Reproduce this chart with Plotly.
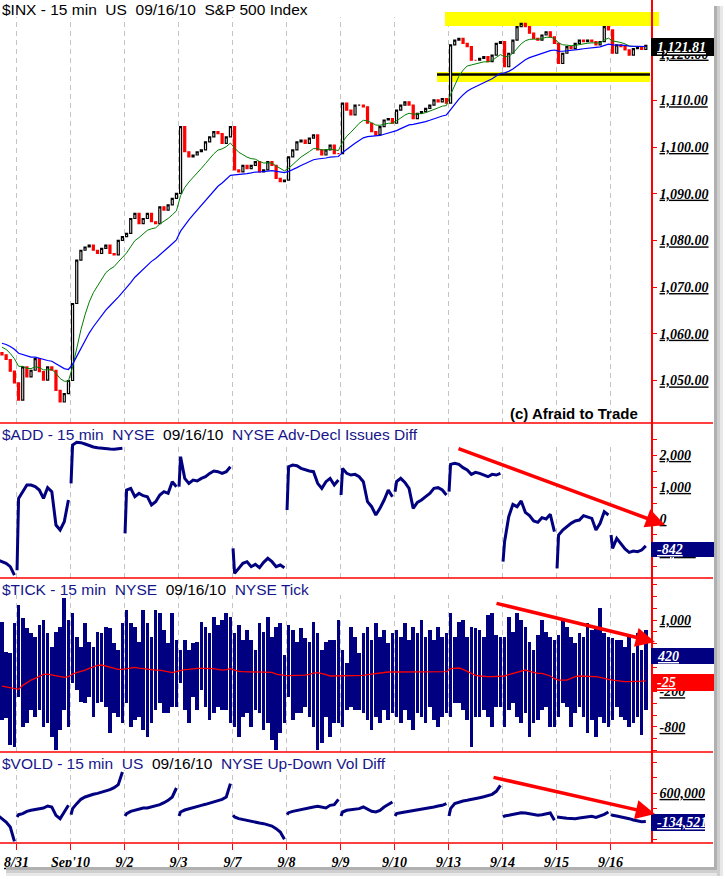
import plotly.graph_objects as go

# ---------------- data ----------------
day_labels = ["8/30", "8/31", "9/1", "9/2", "9/3", "9/7", "9/8", "9/9", "9/10", "9/13", "9/14", "9/15", "9/16"]
day_index = [-1, 0, 1, 2, 3, 4, 5, 6, 7, 8, 9, 10, 11]
first_bar = [9, 0, 0, 0, 0, 0, 0, 0, 0, 0, 0, 0, 0]          # 30-min slot of first visible bar
axis_labels = ["8/31", "Sep'10", "9/2", "9/3", "9/7", "9/8", "9/9", "9/10", "9/13", "9/14", "9/15", "9/16"]

spx_first_open = 1056.0
spx_close = [
    [1055.5, 1054.5, 1052.0, 1049.5],
    [1045.8, 1052.9, 1050.8, 1052.2, 1054.7, 1051.9, 1050.1, 1052.9, 1052.2, 1047.9, 1045.4, 1047.2, 1050.0],
    [1066.5, 1075.8, 1077.9, 1078.6, 1079.0, 1077.9, 1077.2, 1078.3, 1079.0, 1077.2, 1076.9, 1080.0, 1080.8],
    [1081.5, 1084.7, 1085.8, 1083.6, 1084.7, 1085.8, 1084.0, 1083.6, 1087.2, 1086.5, 1087.6, 1089.0, 1090.1],
    [1104.4, 1099.0, 1097.9, 1098.3, 1099.0, 1099.4, 1101.1, 1102.2, 1103.3, 1102.9, 1100.8, 1102.2, 1104.4],
    [1095.1, 1094.7, 1096.1, 1095.4, 1096.1, 1096.9, 1094.7, 1095.1, 1096.9, 1096.1, 1093.3, 1092.6, 1092.9],
    [1097.9, 1099.4, 1101.1, 1101.5, 1100.8, 1101.9, 1102.6, 1099.4, 1098.3, 1099.4, 1100.4, 1098.6, 1098.6],
    [1109.4, 1107.9, 1106.9, 1109.0, 1109.0, 1108.6, 1105.1, 1103.3, 1102.6, 1104.4, 1105.8, 1106.1, 1105.1],
    [1107.9, 1109.0, 1109.7, 1109.0, 1106.1, 1107.2, 1107.6, 1108.3, 1109.0, 1110.1, 1109.7, 1110.4, 1109.4],
    [1121.9, 1122.9, 1123.3, 1122.2, 1121.5, 1118.6, 1118.6, 1119.0, 1119.4, 1118.3, 1119.7, 1122.2, 1122.6],
    [1117.2, 1120.1, 1122.9, 1125.8, 1126.5, 1125.8, 1124.4, 1123.3, 1122.9, 1124.0, 1124.7, 1123.6, 1122.2],
    [1117.9, 1120.1, 1121.5, 1121.1, 1122.2, 1122.9, 1122.6, 1122.9, 1122.6, 1121.9, 1122.6, 1125.8, 1125.1],
    [1120.1, 1121.9, 1121.5, 1120.8, 1119.7, 1121.1, 1121.5, 1120.9, 1121.81],
]
ma_fast_period, ma_fast_seed = 10, 1057.5
ma_slow_period, ma_slow_seed = 25, 1058.2

# $ADD: opening print followed by half-hour readings
add_line = [
    [-1282, -1335, -1387, -1491, -1752],
    [-1600, 645, 854, 1062, 1062, 1010, 906, 645, 979, 854, -188, -344, -84, 593],
    [1114, 2312, 2396, 2385, 2344, 2291, 2250, 2229, 2208, 2198, 2187, 2177, 2187, 2208],
    [-449, 906, 958, 697, 801, 728, 697, 437, 541, 749, 854, 801, 1166, 1010],
    [1010, 1948, 1270, 1114, 1218, 1187, 1270, 1322, 1426, 1500, 1479, 1426, 1479, 1635],
    [-917, -1699, -1543, -1386, -1334, -1491, -1418, -1522, -1355, -1230, -1334, -1491, -1439, -1522],
    [281, 1635, 1687, 1666, 1583, 1531, 1500, 1479, 1114, 958, 1166, 1270, 1062, 1218],
    [749, 1583, 1426, 1374, 1395, 1322, 1166, 541, 385, 124, 333, 593, 906, 697],
    [854, 1166, 1270, 1145, 958, 333, 520, 593, 697, 801, 958, 979, 906, 749],
    [854, 1708, 1739, 1708, 1604, 1531, 1395, 1458, 1426, 1374, 1322, 1395, 1374, 1426],
    [-1334, -709, 72, 458, 385, 562, 208, 104, -63, -105, 41, 0, 145, -396],
    [-1543, -501, -344, -240, -136, -63, -32, 104, 72, 20, -344, -136, 228, 124],
    [-501, -917, -605, -761, -938, -1043, -1001, -1022, -970, -842],
]

# $TICK half-hour high / low and its moving average
tick_high = [
    [972, 467, 439, 944],
    [1252, 1028, 860, 776, 720, 916, 1000, 776, 551, 804, 888, 1365, 1000],
    [1112, 720, 551, 944, 635, 551, 804, 776, 888, 860, 607, 495, 944],
    [1168, 944, 888, 635, 1168, 944, 720, 1168, 1112, 832, 607, 1112, 663],
    [495, 663, 495, 607, 635, 972, 888, 776, 1056, 916, 1000, 1112, 1056],
    [776, 916, 663, 832, 663, 495, 944, 804, 1056, 720, 888, 944, 411],
    [916, 832, 635, 860, 691, 635, 972, 776, 495, 635, 663, 663, 1000],
    [495, 271, 888, 720, 439, 776, 888, 663, 944, 720, 832, 607, 776],
    [832, 720, 944, 663, 888, 776, 1000, 720, 832, 663, 888, 720, 776],
    [1112, 720, 972, 1000, 720, 888, 860, 832, 720, 1084, 1112, 748, 720],
    [720, 1056, 804, 1112, 1000, 888, 635, 495, 748, 1000, 804, 720, 663],
    [748, 1000, 888, 720, 607, 776, 720, 944, 832, 888, 1196, 776, 720],
    [691, 663, 663, 551, 720, 439, 776, 495, 832],
]
tick_low = [
    [-683, -655, -1104, -1132],
    [-290, -795, -739, -515, -627, -515, -795, -739, -963, -1188, -851, -515, -795],
    [-66, -178, -374, -402, -290, -627, -402, -374, -459, -907, -571, -627, -739],
    [-402, -795, -683, -627, -851, -963, -739, -515, -402, -571, -571, -459, -459],
    [-66, -515, -739, -290, -515, -178, -459, -683, -571, -459, -515, -515, -739],
    [-795, -963, -627, -571, -795, -515, -571, -851, -739, -1020, -1188, -907, -739],
    [-290, -683, -571, -571, -459, -627, -795, -1188, -1076, -627, -963, -739, -739],
    [-795, -515, -459, -515, -515, -571, -683, -851, -627, -739, -515, -683, -571],
    [-627, -739, -515, -683, -851, -571, -627, -739, -459, -683, -795, -627, -571],
    [-627, -402, -402, -515, -683, -1132, -627, -627, -515, -627, -795, -459, -459],
    [-795, -515, -402, -627, -739, -571, -963, -739, -683, -515, -459, -795, -795],
    [-627, -402, -459, -795, -571, -459, -627, -907, -683, -963, -627, -739, -795],
    [-683, -459, -627, -683, -795, -739, -627, -935, -515],
]
tick_avg = [
    [-111, -122, -133, -156],
    [-167, -100, -55, -10, 18, 58, 86, 91, 74, 58, 46, 35, 46],
    [91, 114, 130, 158, 187, 215, 237, 243, 226, 203, 187, 170, 170],
    [181, 203, 203, 192, 181, 170, 158, 158, 158, 147, 130, 114, 130],
    [153, 164, 170, 181, 187, 187, 187, 187, 181, 170, 158, 164, 181],
    [158, 136, 130, 130, 130, 130, 130, 130, 130, 119, 91, 74, 69],
    [63, 63, 63, 69, 74, 86, 108, 114, 102, 80, 58, 58, 58],
    [58, 58, 58, 58, 58, 69, 80, 91, 102, 102, 114, 125, 125],
    [125, 130, 130, 130, 125, 125, 125, 125, 125, 125, 125, 130, 130],
    [181, 192, 192, 170, 136, 91, 69, 58, 46, 46, 46, 46, 46],
    [58, 80, 102, 125, 147, 158, 136, 114, 102, 102, 80, 58, 12],
    [-10, -10, -10, 18, 46, 58, 58, 58, 58, 46, 35, 13, 1],
    [-10, -21, -32, -38, -38, -38, -32, -30, -25],
]

# $VOLD: opening print followed by half-hour readings
vold_line = [
    [24000, -62000, -148000, -277000, -647000],
    [-19000, 41000, 67000, 127000, 153000, 178000, 196000, 213000, 265000, 239000, 24000, -62000, 110000, 282000],
    [41000, 196000, 325000, 437000, 497000, 540000, 566000, 591000, 617000, 643000, 686000, 738000, 815000, 1142000],
    [6000, 67000, 127000, 153000, 178000, 213000, 213000, 239000, 265000, 299000, 350000, 411000, 497000, 729000],
    [6000, 110000, 161000, 196000, 221000, 247000, 282000, 308000, 342000, 368000, 394000, 437000, 497000, 841000],
    [24000, -19000, -62000, -88000, -105000, -131000, -148000, -174000, -191000, -217000, -252000, -320000, -406000, -596000],
    [41000, 92000, 127000, 153000, 178000, 196000, 213000, 239000, 256000, 239000, 213000, 282000, 299000, 437000],
    [6000, 110000, 153000, 170000, 178000, 196000, 239000, 178000, 127000, 110000, 153000, 239000, 299000, 368000],
    [6000, 67000, 92000, 110000, 127000, 144000, 153000, 178000, 196000, 213000, 239000, 265000, 282000, 325000],
    [6000, 196000, 325000, 368000, 394000, 411000, 428000, 454000, 480000, 505000, 531000, 566000, 643000, 798000],
    [-19000, 6000, 24000, 49000, 84000, 92000, 84000, 67000, 41000, 24000, 41000, 58000, 84000, -105000],
    [-19000, -19000, -36000, -54000, -62000, -62000, -45000, -28000, -19000, -2000, -28000, 6000, 49000, 110000],
    [41000, 24000, 6000, -11000, -36000, -62000, -97000, -114000, -140000, -134521],
]

last_spx, last_add, last_tick, last_tick_avg, last_vold = "1,121.81", "-842", "420", "-25", "-134,521"

# ---------------- geometry helpers (pixel layout) ----------------
W, H = 725, 879
PW, PH = 651, 843          # plot area (x 0..651, y 0..843)
SLOTS = 13


def fx(p):
    return p / PW


def fy(p):
    return (PH - p) / PH


bar_x = []
for d, f, day_closes in zip(day_index, first_bar, spx_close):
    for s in range(f, f + len(day_closes)):
        bar_x.append(d + (s + 0.5) / SLOTS)

closes = [c for day in spx_close for c in day]
opens = [spx_first_open] + closes[:-1]
highs = [max(o, c) for o, c in zip(opens, closes)]
lows = [min(o, c) for o, c in zip(opens, closes)]


def ema(vals, n, seed):
    a = 2.0 / (n + 1)
    e = seed
    out = []
    for v in vals:
        e = e + a * (v - e)
        out.append(e)
    return out


ma_fast = ema(closes, ma_fast_period, ma_fast_seed)
ma_slow = ema(closes, ma_slow_period, ma_slow_seed)


def line_xy(series):
    xs, ys = [], []
    for d, day_vals in zip(day_index, series):
        k0 = 14 - len(day_vals) if d == -1 else 0
        for j, v in enumerate(day_vals):
            k = k0 + j
            xs.append(d + 0.01 if k == 0 else d + (k - 0.5) / SLOTS)
            ys.append(v)
        xs.append(None)
        ys.append(None)
    return xs, ys


add_x, add_y = line_xy(add_line)
vold_x, vold_y = line_xy(vold_line)
th = [v for day in tick_high for v in day]
tl = [v for day in tick_low for v in day]
ta = [v for day in tick_avg for v in day]

NAVY = "#000080"
RED = "#ff0000"

fig = go.Figure()
fig.add_trace(go.Candlestick(
    x=bar_x, open=opens, high=highs, low=lows, close=closes,
    increasing=dict(line=dict(color="black", width=1.2), fillcolor="white"),
    decreasing=dict(line=dict(color=RED, width=1.2), fillcolor=RED),
    whiskerwidth=0, xaxis="x", yaxis="y", showlegend=False, hoverinfo="skip"))
fig.add_trace(go.Scatter(x=bar_x, y=ma_fast, mode="lines", line=dict(color="#008000", width=1),
                         xaxis="x", yaxis="y", showlegend=False, hoverinfo="skip"))
fig.add_trace(go.Scatter(x=bar_x, y=ma_slow, mode="lines", line=dict(color="#0000ff", width=1.2),
                         xaxis="x", yaxis="y", showlegend=False, hoverinfo="skip"))
fig.add_trace(go.Scatter(x=add_x, y=add_y, mode="lines", line=dict(color=NAVY, width=3),
                         xaxis="x2", yaxis="y2", showlegend=False, hoverinfo="skip"))
fig.add_trace(go.Bar(x=bar_x, y=[h - l for h, l in zip(th, tl)], base=tl, width=0.88 / SLOTS,
                     marker=dict(color=NAVY, line=dict(width=0)),
                     xaxis="x3", yaxis="y3", showlegend=False, hoverinfo="skip"))
fig.add_trace(go.Scatter(x=bar_x, y=ta, mode="lines", line=dict(color=RED, width=1.3),
                         xaxis="x3", yaxis="y3", showlegend=False, hoverinfo="skip"))
fig.add_trace(go.Scatter(x=vold_x, y=vold_y, mode="lines", line=dict(color=NAVY, width=3),
                         xaxis="x4", yaxis="y4", showlegend=False, hoverinfo="skip"))

xr = [-16.5 / 54, (PW - 16.5) / 54]
axis_font = dict(family="Liberation Serif", size=14, color="black", weight="bold",
                 style="italic", lineposition="under")

panels = {
    "price": (0, 423, 17),
    "add": (423, 578, 443),
    "tick": (578, 752, 595),
    "vold": (752, 843, 770),
}

xcommon = dict(range=xr, showgrid=False, zeroline=False, showticklabels=False, ticks="")
layout = dict(
    width=W, height=H, margin=dict(l=0, r=W - PW, t=0, b=H - PH),
    paper_bgcolor="white", plot_bgcolor="white", showlegend=False, bargap=0,
    xaxis=dict(xcommon, domain=[0, 1], anchor="y", rangeslider=dict(visible=False)),
    xaxis2=dict(xcommon, domain=[0, 1], anchor="y2", matches="x"),
    xaxis3=dict(xcommon, domain=[0, 1], anchor="y3", matches="x"),
    xaxis4=dict(domain=[0, 1], anchor="y4", matches="x", range=xr, showgrid=False, zeroline=False,
                tickmode="array", tickvals=list(range(12)), ticktext=axis_labels,
                ticks="outside", ticklen=6, tickcolor=RED, tickwidth=1,
                showline=False, tickfont=axis_font),
)


def yax(dom, rng, vals, texts, anchor):
    return dict(domain=dom, range=rng, side="right", showgrid=False, zeroline=False, anchor=anchor,
                showline=True, linecolor=RED, linewidth=1.5, ticks="outside", ticklen=4,
                tickcolor=RED, tickwidth=1, tickmode="array", tickvals=vals, ticktext=texts,
                tickfont=axis_font)


price_ticks = [1050, 1060, 1070, 1080, 1090, 1100, 1110, 1120]
layout["yaxis"] = yax([fy(423), 1], [1040.9, 1131.5], price_ticks,
                      ["{:,.2f}".format(v) for v in price_ticks], "x")
add_ticks = [-1500, -1000, -500, 0, 500, 1000, 1500, 2000, 2500]
layout["yaxis2"] = yax([fy(578), fy(423)], [-1844, 3000], add_ticks,
                       ["", "-1,000", "", "0", "", "1,000", "", "2,000", ""], "x2")
tick_ticks = [-1200, -1000, -800, -600, -400, -200, 0, 200, 400, 600, 800, 1000, 1200, 1400, 1600]
layout["yaxis3"] = yax([fy(752), fy(578)], [-1221, 1707], tick_ticks,
                       ["", "", "-800", "", "", "-200", "", "", "", "", "", "1,000", "", "", ""], "x3")
vold_ticks = [-600000, -200000, 200000, 600000, 1000000, 1400000]
layout["yaxis4"] = yax([0, fy(752)], [-690000, 1658000], vold_ticks,
                       ["", "", "", "600,000", "", ""], "x4")

shapes = []
for (top, bot, gtop) in panels.values():
    for d in range(12):
        shapes.append(dict(type="line", xref="x", yref="paper", x0=d, x1=d, y0=fy(bot), y1=fy(gtop),
                           line=dict(color="#c4c4c4", width=1, dash="5px,4px"), layer="below"))
shapes.append(dict(type="rect", xref="paper", yref="paper", x0=fx(445), x1=fx(659), y0=fy(26), y1=fy(12),
                   fillcolor="#ffff00", line=dict(width=0), layer="below"))
shapes.append(dict(type="rect", xref="paper", yref="paper", x0=fx(437), x1=fx(650), y0=fy(82), y1=fy(72),
                   fillcolor="#ffff00", line=dict(width=0), layer="below"))
shapes.append(dict(type="line", xref="paper", yref="paper", x0=fx(437), x1=fx(650), y0=fy(74.5), y1=fy(74.5),
                   line=dict(color="black", width=2.5), layer="below"))
for yy in [423, 578, 752, 843]:
    shapes.append(dict(type="line", xref="paper", yref="paper", x0=0, x1=fx(713), y0=fy(yy), y1=fy(yy),
                       line=dict(color=RED, width=1.5)))
boxes = [(38, 56, 715, "black"), (542, 557, 714, NAVY), (648, 664, 714, NAVY), (674, 691, 714, RED),
         (814, 831, 705, NAVY)]
for (y0, y1, x1, col) in boxes:
    shapes.append(dict(type="rect", xref="paper", yref="paper", x0=fx(651), x1=fx(x1), y0=fy(y1), y1=fy(y0),
                       fillcolor=col, line=dict(width=0)))
for (x0, x1, col) in [(714, 717, "#b0b0b0"), (717, 720, "#cfcfcf"), (720, 723, "#e8e8e8")]:
    shapes.append(dict(type="rect", xref="paper", yref="paper", x0=fx(x0), x1=fx(x1), y0=fy(876), y1=fy(6),
                       fillcolor=col, line=dict(width=0)))
for (y0, y1, col) in [(867, 870, "#b0b0b0"), (870, 873, "#cfcfcf"), (873, 876, "#e8e8e8")]:
    shapes.append(dict(type="rect", xref="paper", yref="paper", x0=fx(6), x1=fx(717), y0=fy(y1), y1=fy(y0),
                       fillcolor=col, line=dict(width=0)))
layout["shapes"] = shapes

NB = "\u00a0"
title_font = dict(family="Liberation Sans", size=15.5, color="black")


def title(parts):
    return (NB + NB).join(parts)


def blue(t):
    return '<span style="color:#16168a">' + t + "</span>"


ann = []
ann.append(dict(text=title(["$INX - 15 min", "US", "09/16/10", "S&P 500 Index"]), x=0, y=fy(10)))
ann.append(dict(text=title([blue("$ADD - 15 min"), blue("NYSE"), "09/16/10", blue("NYSE Adv-Decl Issues Diff")]),
                x=0, y=fy(434)))
ann.append(dict(text=title([blue("$TICK - 15 min"), blue("NYSE"), "09/16/10", blue("NYSE Tick")]),
                x=0, y=fy(589)))
ann.append(dict(text=title([blue("$VOLD - 15 min"), blue("US"), "09/16/10", blue("NYSE Up-Down Vol Diff")]),
                x=0, y=fy(763)))
for a in ann:
    a.update(xref="paper", yref="paper", xanchor="left", yanchor="middle", showarrow=False, font=title_font)
ann.append(dict(text="<b>(c) Afraid to Trade</b>", xref="paper", yref="paper", x=fx(508), y=fy(413),
                xanchor="left", yanchor="middle", showarrow=False,
                font=dict(family="Liberation Sans", size=15, color="black")))
box_font = dict(family="Liberation Serif", size=14, color="white", weight="bold", style="italic",
                lineposition="under")
for txt, yc in [(last_spx, 47), (last_add, 549.5), (last_tick, 656), (last_tick_avg, 682.5), (last_vold, 822.5)]:
    ann.append(dict(text=txt, xref="paper", yref="paper", x=fx(655), y=fy(yc), xanchor="left",
                    yanchor="middle", showarrow=False, font=box_font))
for (hx, hy, tx, ty) in [(665, 525, 457, 448), (655, 642, 495, 603), (655, 814, 492, 777)]:
    ann.append(dict(text="", xref="paper", yref="paper", x=fx(hx), y=fy(hy), ax=tx - hx, ay=ty - hy,
                    showarrow=True, arrowhead=2, arrowsize=1.1, arrowwidth=3.5, arrowcolor=RED))
layout["annotations"] = ann

fig.update_layout(layout)
fig.write_html("out.html", config={"displayModeBar": False})
